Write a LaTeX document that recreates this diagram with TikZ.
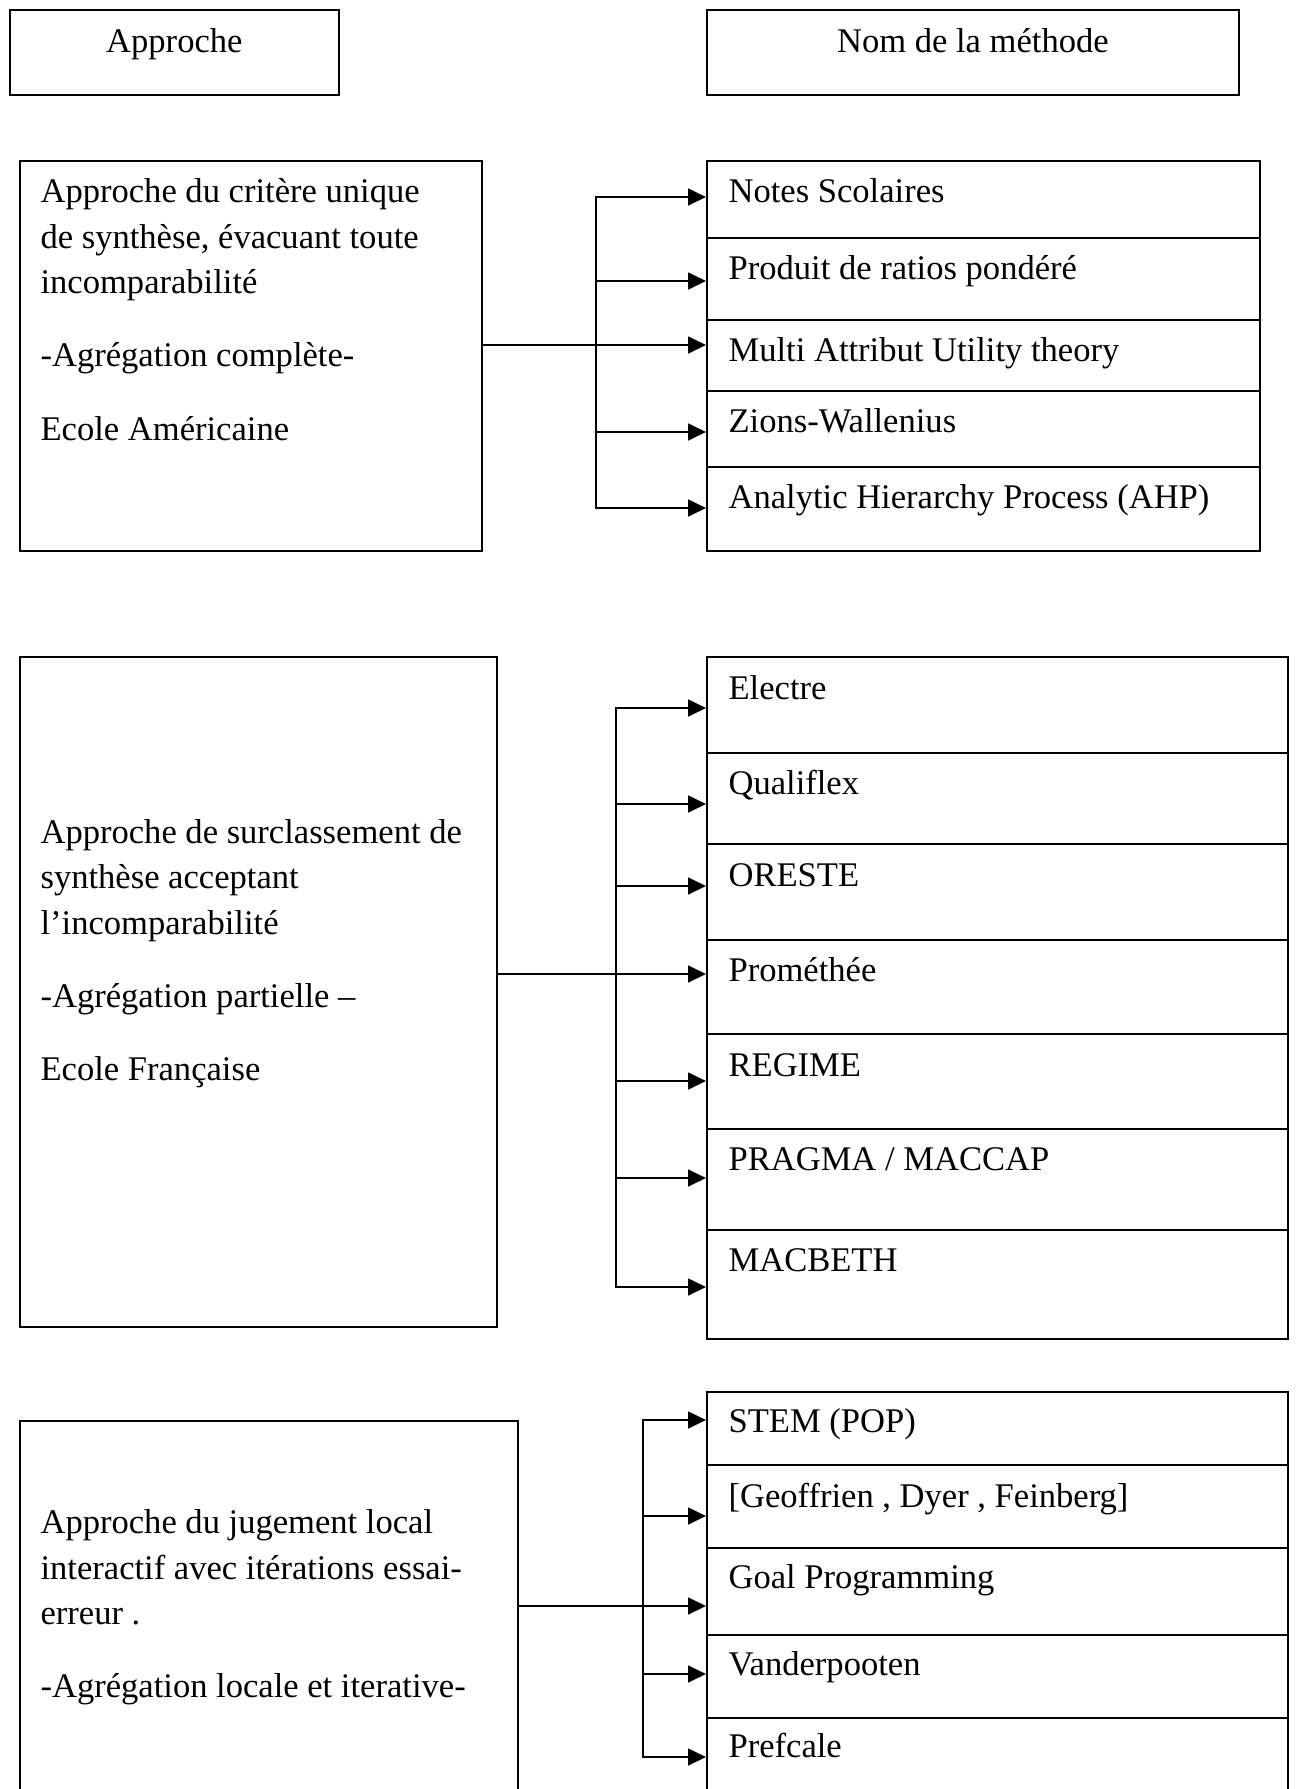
\documentclass[tikz,border=0pt]{standalone}
\usepackage{fontspec}
\setmainfont{Liberation Serif}
\usetikzlibrary{arrows.meta,calc}

\begin{document}
\begin{tikzpicture}[x=0.3472pt, y=-0.3472pt,
  box/.style n args={2}{draw, line width=0.6pt, inner sep=0pt, anchor=north west,
    minimum width=#1*0.3472pt, minimum height=#2*0.3472pt},
  mtxt/.style={anchor=base west, inner sep=0pt, font=\fontsize{12pt}{15.83pt}\selectfont},
  htxt/.style={anchor=base, inner sep=0pt, font=\fontsize{12pt}{15.83pt}\selectfont},
  para/.style={anchor=north west, inner sep=0pt, align=left, font=\fontsize{12pt}{15.83pt}\selectfont},
  link/.style={line width=0.8pt},
  tip/.style={-{Triangle[length=6.2pt,width=5.8pt]}},
  tips/.style={{Triangle[length=6.2pt,width=5.8pt]}-{Triangle[length=6.2pt,width=5.8pt]}}]

\useasboundingbox (0,0) rectangle (1296,1789);
\clip (0,0) rectangle (1296,1789);

% column headers
\node[box={329}{85}] (hA) at (9,9) {};
\node[htxt] (hAt) at ($(hA.north)+(0,43)$) {Approche};
\node[box={532}{85}] (hM) at (706,9) {};
\node[htxt] (hMt) at ($(hM.north)+(0,43)$) {Nom de la méthode};

% ---------- group 1 ----------
\node[box={462}{390}] (A1) at (19,160) {};
\node[para] (A1t) at ($(A1.north west)+(21,10)$)
  {\strut Approche du critère unique\\ de synthèse, évacuant toute\\ incomparabilité\\[9.6pt]
   -Agrégation complète-\\[9.6pt] Ecole Américaine};

\node[box={553}{77}] (m11) at (706,160) {};
\node[box={553}{82}] (m12) at (706,237) {};
\node[box={553}{71}] (m13) at (706,319) {};
\node[box={553}{76}] (m14) at (706,390) {};
\node[box={553}{84}] (m15) at (706,466) {};
\node[mtxt] (t11) at ($(m11.north west)+(22,42)$) {Notes Scolaires};
\node[mtxt] (t12) at ($(m12.north west)+(22,42)$) {Produit de ratios pondéré};
\node[mtxt] (t13) at ($(m13.north west)+(22,42)$) {Multi Attribut Utility theory};
\node[mtxt] (t14) at ($(m14.north west)+(22,42)$) {Zions-Wallenius};
\node[mtxt] (t15) at ($(m15.north west)+(22,42)$) {Analytic Hierarchy Process (AHP)};

\coordinate (b1t) at (596,197);
\coordinate (b1b) at (596,508);
\coordinate (b12) at (596,281);
\coordinate (b14) at (596,432);
\coordinate (h1) at (481,345);
\draw[link,tips] (b1t -| m11.west) -- (b1t) -- (b1b) -- (b1b -| m15.west);
\draw[link,tip] (b12) -- (b12 -| m12.west);
\draw[link,tip] (b14) -- (b14 -| m14.west);
\draw[link,tip] (h1) -- (h1 -| m13.west);

% ---------- group 2 ----------
\node[box={477}{670}] (A2) at (19,656) {};
\node[para] (A2t) at ($(A2.north west)+(21,154.5)$)
  {\strut Approche de surclassement de\\ synthèse acceptant\\ l’incomparabilité\\[9.6pt]
   -Agrégation partielle –\\[9.6pt] Ecole Française};

\node[box={581}{96}] (m21) at (706,656) {};
\node[box={581}{91}] (m22) at (706,752) {};
\node[box={581}{96}] (m23) at (706,843) {};
\node[box={581}{94}] (m24) at (706,939) {};
\node[box={581}{95}] (m25) at (706,1033) {};
\node[box={581}{101}] (m26) at (706,1128) {};
\node[box={581}{109}] (m27) at (706,1229) {};
\node[mtxt] (t21) at ($(m21.north west)+(22,43)$) {Electre};
\node[mtxt] (t22) at ($(m22.north west)+(22,42)$) {Qualiflex};
\node[mtxt] (t23) at ($(m23.north west)+(22,43)$) {ORESTE};
\node[mtxt] (t24) at ($(m24.north west)+(22,42)$) {Prométhée};
\node[mtxt] (t25) at ($(m25.north west)+(22,43)$) {REGIME};
\node[mtxt] (t26) at ($(m26.north west)+(22,42)$) {PRAGMA / MACCAP};
\node[mtxt] (t27) at ($(m27.north west)+(22,42)$) {MACBETH};

\coordinate (b2t) at (616,708);
\coordinate (b2b) at (616,1287);
\coordinate (b22) at (616,804);
\coordinate (b23) at (616,886);
\coordinate (b25) at (616,1081);
\coordinate (b26) at (616,1178);
\coordinate (h2) at (496,974);
\draw[link,tips] (b2t -| m21.west) -- (b2t) -- (b2b) -- (b2b -| m27.west);
\draw[link,tip] (b22) -- (b22 -| m22.west);
\draw[link,tip] (b23) -- (b23 -| m23.west);
\draw[link,tip] (b25) -- (b25 -| m25.west);
\draw[link,tip] (b26) -- (b26 -| m26.west);
\draw[link,tip] (h2) -- (h2 -| m24.west);

% ---------- group 3 ----------
\node[box={498}{390}] (A3) at (19,1420) {};
\node[para] (A3t) at ($(A3.north west)+(21,81)$)
  {\strut Approche du jugement local\\ interactif avec itérations essai-\\ erreur .\\[9.6pt]
   -Agrégation locale et iterative-};

\node[box={581}{73}] (m31) at (706,1391) {};
\node[box={581}{83}] (m32) at (706,1464) {};
\node[box={581}{87}] (m33) at (706,1547) {};
\node[box={581}{83}] (m34) at (706,1634) {};
\node[box={581}{90}] (m35) at (706,1717) {};
\node[mtxt] (t31) at ($(m31.north west)+(22,41)$) {STEM (POP)};
\node[mtxt] (t32) at ($(m32.north west)+(22,43)$) {[Geoffrien , Dyer , Feinberg]};
\node[mtxt] (t33) at ($(m33.north west)+(22,41)$) {Goal Programming};
\node[mtxt] (t34) at ($(m34.north west)+(22,41)$) {Vanderpooten};
\node[mtxt] (t35) at ($(m35.north west)+(22,40)$) {Prefcale};

\coordinate (b3t) at (643,1420);
\coordinate (b3b) at (643,1757);
\coordinate (b32) at (643,1516);
\coordinate (b34) at (643,1674);
\coordinate (h3) at (517,1606);
\draw[link,tips] (b3t -| m31.west) -- (b3t) -- (b3b) -- (b3b -| m35.west);
\draw[link,tip] (b32) -- (b32 -| m32.west);
\draw[link,tip] (b34) -- (b34 -| m34.west);
\draw[link,tip] (h3) -- (h3 -| m33.west);
\end{tikzpicture}
\end{document}
